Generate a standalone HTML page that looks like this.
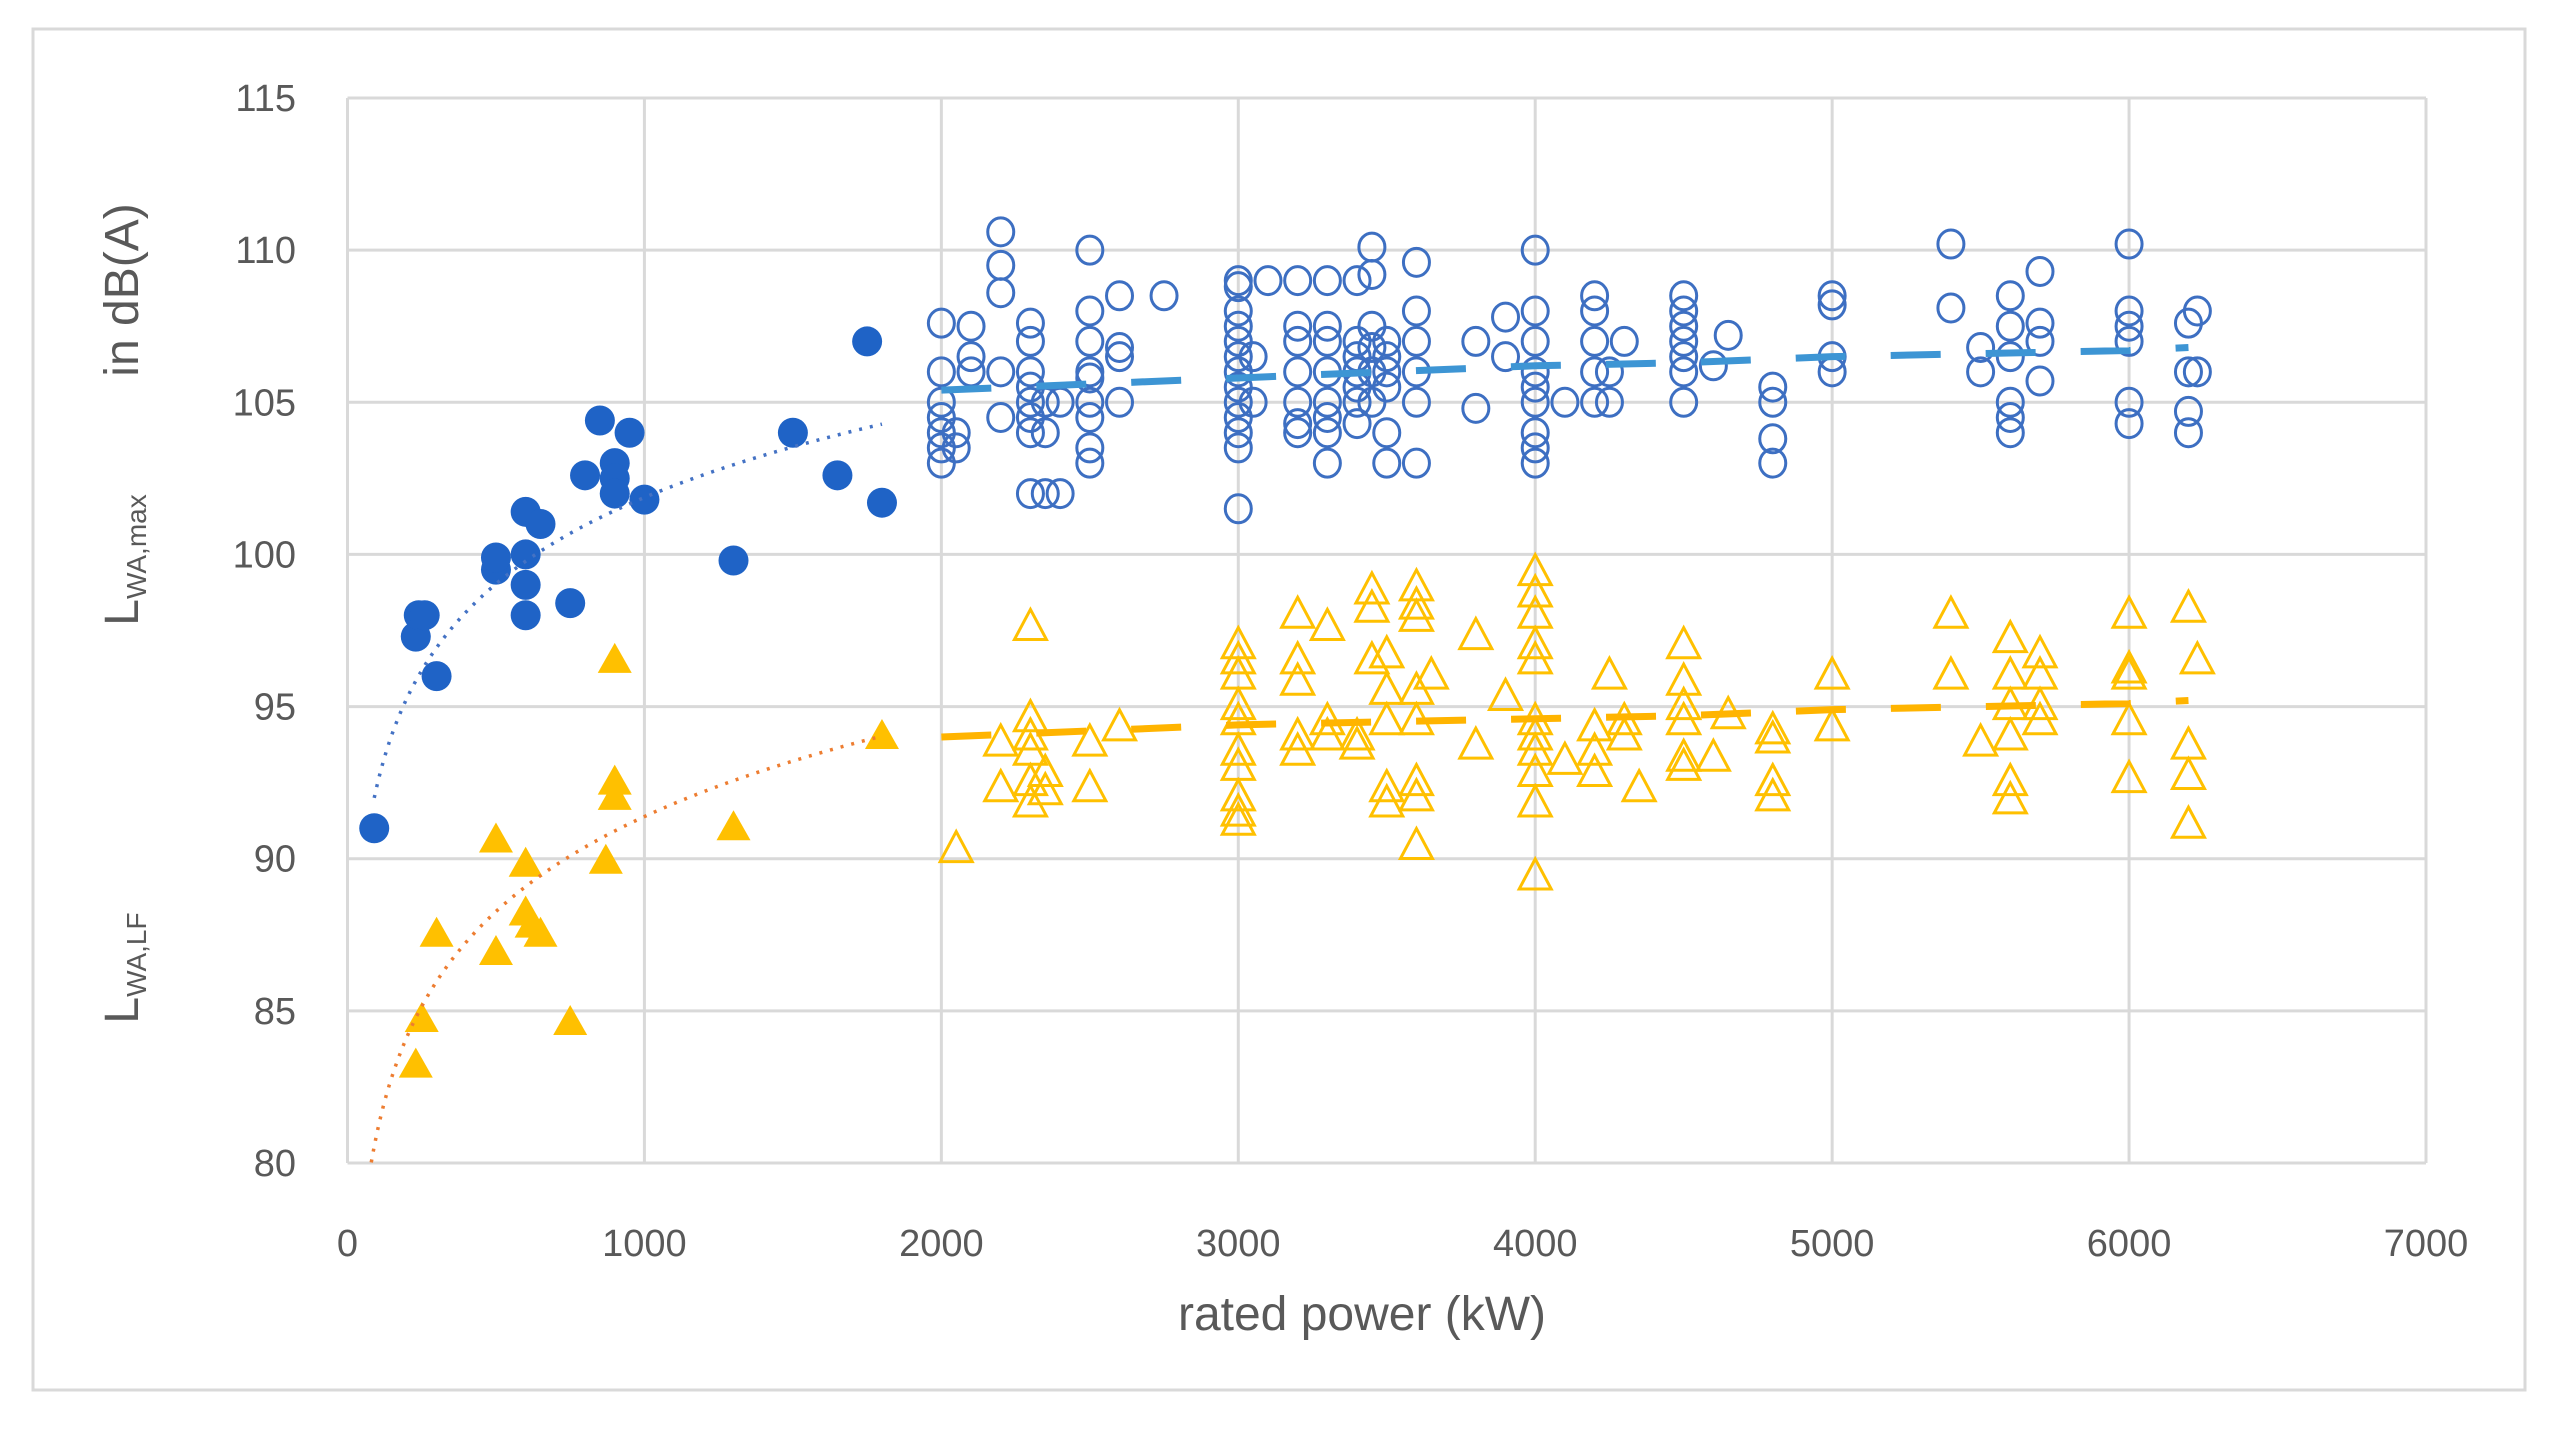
<!DOCTYPE html>
<html><head><meta charset="utf-8"><style>
html,body{margin:0;padding:0;background:#fff;}
svg{display:block;font-family:"Liberation Sans",sans-serif;}
</style></head><body>
<svg id="chart" width="2558" height="1440" viewBox="0 0 2558 1440" xmlns="http://www.w3.org/2000/svg">
<rect x="33" y="29" width="2492" height="1361" fill="#fff" stroke="#d9d9d9" stroke-width="3"/>
<g id="grid"></g>
<g id="ticks"></g>
<g id="marks"></g>
<text x="1362" y="1330" font-size="48" fill="#595959" text-anchor="middle">rated power (kW)</text>
<g fill="#595959">
<text transform="translate(138,290) rotate(-90)" font-size="48" text-anchor="middle">in dB(A)</text>
<text transform="translate(138,560) rotate(-90)" font-size="48" text-anchor="middle">L<tspan font-size="28" dy="8">WA,max</tspan></text>
<text transform="translate(138,968) rotate(-90)" font-size="48" text-anchor="middle">L<tspan font-size="28" dy="8">WA,LF</tspan></text>
</g>
</svg>
<script>
const xTicks=[0,1000,2000,3000,4000,5000,6000,7000];
const yTicks=[80,85,90,95,100,105,110,115];
const maxSmallX=[90,230,240,260,300,500,500,600,600,600,600,650,750,800,850,900,900,900,950,1000,1300,1500,1650,1750,1800];
const maxSmallY=[91,97.3,98,98,96,99.5,99.9,101.4,100,99,98,101,98.4,102.6,104.4,103,102.5,102,104,101.8,99.8,104,102.6,107,101.7];
const lfSmallX=[230,250,300,500,500,600,600,620,650,750,870,900,900,900,1300,1800];
const lfSmallY=[83.2,84.7,87.5,90.6,86.9,89.8,88.2,87.8,87.5,84.6,89.9,96.5,92.5,92,91,94];
const maxLargeX=[2000,2000,2000,2000,2000,2000,2000,2050,2050,2100,2100,2100,2200,2200,2200,2200,2200,2300,2300,2300,2300,2300,2300,2300,2300,2350,2350,2350,2400,2400,2500,2500,2500,2500,2500,2500,2500,2500,2500,2600,2600,2600,2600,2750,3000,3000,3000,3000,3000,3000,3000,3000,3000,3000,3000,3000,3000,3050,3050,3100,3200,3200,3200,3200,3200,3200,3200,3300,3300,3300,3300,3300,3300,3300,3300,3400,3400,3400,3400,3400,3400,3400,3450,3450,3450,3450,3450,3450,3500,3500,3500,3500,3500,3500,3600,3600,3600,3600,3600,3600,3800,3800,3900,3900,4000,4000,4000,4000,4000,4000,4000,4000,4000,4100,4200,4200,4200,4200,4200,4250,4250,4300,4500,4500,4500,4500,4500,4500,4500,4600,4650,4800,4800,4800,4800,5000,5000,5000,5000,5400,5400,5500,5500,5600,5600,5600,5600,5600,5600,5700,5700,5700,5700,6000,6000,6000,6000,6000,6000,6200,6200,6200,6200,6230,6230];
const maxLargeY=[107.6,106,105,104.5,104,103.5,103,104,103.5,107.5,106.5,106,110.6,109.5,108.6,106,104.5,107.6,107,106,105.5,105,104.5,104,102,105,104,102,102,105,110,108,107,106,105.8,105,104.5,103.5,103,108.5,106.8,106.5,105,108.5,109,108.8,108,107.5,107,106.5,106,105.5,105,104.5,104,103.5,101.5,106.5,105,109,109,107.5,107,106,105,104,104.3,109,107.5,107,106,105,104.5,104,103,109,107,106.5,106,105.5,105,104.3,110.1,109.2,107.5,106.8,106,105,107,106.5,106,105.5,104,103,109.6,108,107,106,105,103,107,104.8,107.8,106.5,110,108,107,106,105.5,105,104,103.5,103,105,108.5,108,107,106,105,106,105,107,108.5,108,107.5,107,106.5,106,105,106.2,107.2,105.5,105,103.8,103,108.5,108.2,106.5,106,110.2,108.1,106.8,106,108.5,107.5,106.5,105,104.5,104,109.3,107.6,107,105.7,110.2,108,107.5,107,105,104.3,107.6,106,104.7,104,108,106];
const lfLargeX=[2050,2200,2200,2300,2300,2300,2300,2300,2300,2350,2350,2500,2500,2600,3000,3000,3000,3000,3000,3000,3000,3000,3000,3000,3200,3200,3200,3200,3200,3300,3300,3300,3400,3400,3450,3450,3450,3500,3500,3500,3500,3500,3600,3600,3600,3600,3600,3600,3600,3600,3650,3800,3800,3900,4000,4000,4000,4000,4000,4000,4000,4000,4000,4000,4000,4100,4200,4200,4200,4250,4300,4300,4350,4500,4500,4500,4500,4500,4500,4600,4650,4800,4800,4800,4800,5000,5000,5400,5400,5500,5600,5600,5600,5600,5600,5600,5700,5700,5700,5700,6000,6000,6000,6000,6000,6200,6200,6200,6200,6230];
const lfLargeY=[90.3,93.8,92.3,97.6,94.6,94,93.5,92.5,91.8,92.8,92.2,93.8,92.3,94.3,97,96.5,96,95,94.5,93.5,93,92,91.5,91.2,98,96.5,95.8,94,93.5,97.6,94.5,94,94,93.7,98.8,98.2,96.5,96.7,95.5,94.5,92.3,91.8,98.9,98.3,97.9,95.5,94.5,92.5,92,90.4,96,97.3,93.7,95.3,99.4,98.7,98,97,96.5,94.5,94,93.5,92.8,91.8,89.4,93.2,94.3,93.5,92.8,96,94.5,94,92.3,97,95.8,95,94.5,93.3,93,93.3,94.7,94.2,93.9,92.5,92,96,94.3,98,96,93.8,97.2,96,95,94,92.5,91.9,96.7,96,95,94.5,98,96.2,96,94.5,92.6,98.2,93.7,92.7,91.1,96.5];
const trendMaxCoef=[73.55,4.1];
const trendLfCoef=[60.3,4.5];
const trendMaxLarge=[105.4,105.6,105.8,106.0,106.2,106.3,106.5,106.6,106.7,106.8];
const trendLfLarge=[94.0,94.2,94.4,94.5,94.6,94.7,94.9,95.0,95.1,95.2];
const trendLargeX=[2000,2500,3000,3500,4000,4500,5000,5500,6000,6200];

const X0=347.5,X1=2426,Y0=1163,Y1=98;
const sx=v=>X0+(v-0)/(7000-0)*(X1-X0);
const sy=v=>Y0-(v-80)/(115-80)*(Y0-Y1);
const NS="http://www.w3.org/2000/svg";
function mk(tag,attrs,parent){const e=document.createElementNS(NS,tag);for(const k in attrs)e.setAttribute(k,attrs[k]);parent.appendChild(e);return e;}
const grid=document.getElementById('grid'),ticks=document.getElementById('ticks'),marks=document.getElementById('marks');
xTicks.forEach(t=>{
  const l=mk('line',{x1:sx(t),x2:sx(t),y1:Y1,y2:Y0,stroke:'#d9d9d9','stroke-width':3},grid);
  
  
  const tx=mk('text',{x:sx(t),y:1256,'font-size':38,fill:'#595959','text-anchor':'middle'},ticks);
  tx.textContent=t;
  
  
});
yTicks.forEach(t=>{
  const l=mk('line',{x1:X0,x2:X1,y1:sy(t),y2:sy(t),stroke:'#d9d9d9','stroke-width':3},grid);
  
  
  const tx=mk('text',{x:296,y:sy(t)+13,'font-size':38,fill:'#595959','text-anchor':'end'},ticks);
  tx.textContent=t;
  
  
});
function tri(x,y,w,h){return `${x},${y-h*0.6} ${x-w/2},${y+h*0.4} ${x+w/2},${y+h*0.4}`;}
maxLargeX.forEach((v,i)=>{
  const c=mk('ellipse',{cx:sx(v),cy:sy(maxLargeY[i]),rx:13,ry:14,fill:'none',stroke:'#3d6fc2','stroke-width':3},marks);
  
  
});
lfLargeX.forEach((v,i)=>{
  const p=mk('polygon',{points:tri(sx(v),sy(lfLargeY[i]),32,30),fill:'none',stroke:'#ffc000','stroke-width':3},marks);
  
  
});
maxSmallX.forEach((v,i)=>{
  const c=mk('circle',{cx:sx(v),cy:sy(maxSmallY[i]),r:15,fill:'#1f63c6'},marks);
  
  
});
lfSmallX.forEach((v,i)=>{
  const p=mk('polygon',{points:tri(sx(v),sy(lfSmallY[i]),34,30),fill:'#ffc000'},marks);
  
  
});
function logPath(coef,xa,xb){let d='';for(let x=xa;x<=xb;x+=10){const y=coef[0]+coef[1]*Math.log(x);d+=(d?'L':'M')+sx(x)+','+sy(Math.max(80,y));}return d;}
const t1=mk('path',{d:logPath(trendMaxCoef,90,1800),fill:'none',stroke:'#4472c4','stroke-width':3.5,'stroke-dasharray':'3 8'},marks);


const t2=mk('path',{d:logPath(trendLfCoef,80,1800),fill:'none',stroke:'#ed7d31','stroke-width':3.5,'stroke-dasharray':'3 8'},marks);


function linePath(xs,ys){return xs.map((x,i)=>(i?'L':'M')+sx(x)+','+sy(ys[i])).join('');}
const t3=mk('path',{d:linePath(trendLargeX,trendMaxLarge),fill:'none',stroke:'#3d95d4','stroke-width':7,'stroke-dasharray':'50 45'},marks);


const t4=mk('path',{d:linePath(trendLargeX,trendLfLarge),fill:'none',stroke:'#ffb400','stroke-width':7,'stroke-dasharray':'50 45'},marks);


</script>
</body></html>
